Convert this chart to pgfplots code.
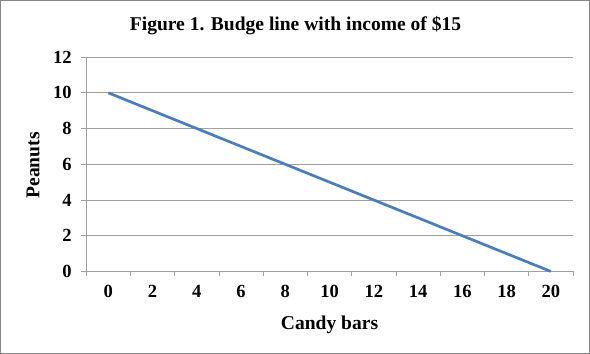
\documentclass[border=0pt]{standalone}
\usepackage{pgfplots}
\pgfplotsset{compat=1.18}
\usepackage{fontspec}
\setmainfont{Liberation Serif}
\definecolor{linecol}{RGB}{74,126,187}
\definecolor{gridcol}{RGB}{160,160,160}
\definecolor{framecol}{RGB}{134,134,134}
\begin{document}
\begin{tikzpicture}[x=1pt,y=1pt]
\draw[framecol, line width=1pt] (0.5,0.5) rectangle (588.5,352.5);
\begin{axis}[
  at={(86pt,82pt)}, anchor=south west,
  width=486pt, height=214pt, scale only axis,
  xmin=-0.5, xmax=10.5, ymin=0, ymax=12,
  xtick={0,...,10},
  xticklabels={0,2,4,6,8,10,12,14,16,18,20},
  minor xtick={-0.5,0.5,...,10.5},
  ytick={0,2,...,12},
  tick align=outside,
  major tick length=5pt, minor tick length=5pt,
  x tick style={draw=none},
  minor x tick style={draw=gridcol, line width=0.8pt},
  y tick style={draw=gridcol, line width=0.8pt},
  axis x line*=bottom, axis y line*=left,
  axis line style={draw=gridcol, line width=0.8pt, -},
  ymajorgrids, major grid style={draw=gridcol, line width=0.8pt},
  /pgf/number format/assume math mode=true,
  tick label style={font=\bfseries\fontsize{18.5}{21}\selectfont},
  yticklabel style={xshift=-6pt},
  xticklabel style={yshift=-5pt},
  clip=false,
]
\addplot[linecol, line width=2.7pt] coordinates {
 (0,10) (1,9) (2,8) (3,7) (4,6) (5,5) (6,4) (7,3) (8,2) (9,1) (10,0)};
\end{axis}
\node[font=\bfseries\fontsize{19.5}{22}\selectfont] at (295,327) {Figure 1. Budge line with income of \$15};
\node[font=\bfseries\fontsize{19.5}{22}\selectfont] at (329,29) {Candy bars};
\node[font=\bfseries\fontsize{19.5}{22}\selectfont, rotate=90] at (33,188) {Peanuts};
\end{tikzpicture}
\end{document}
